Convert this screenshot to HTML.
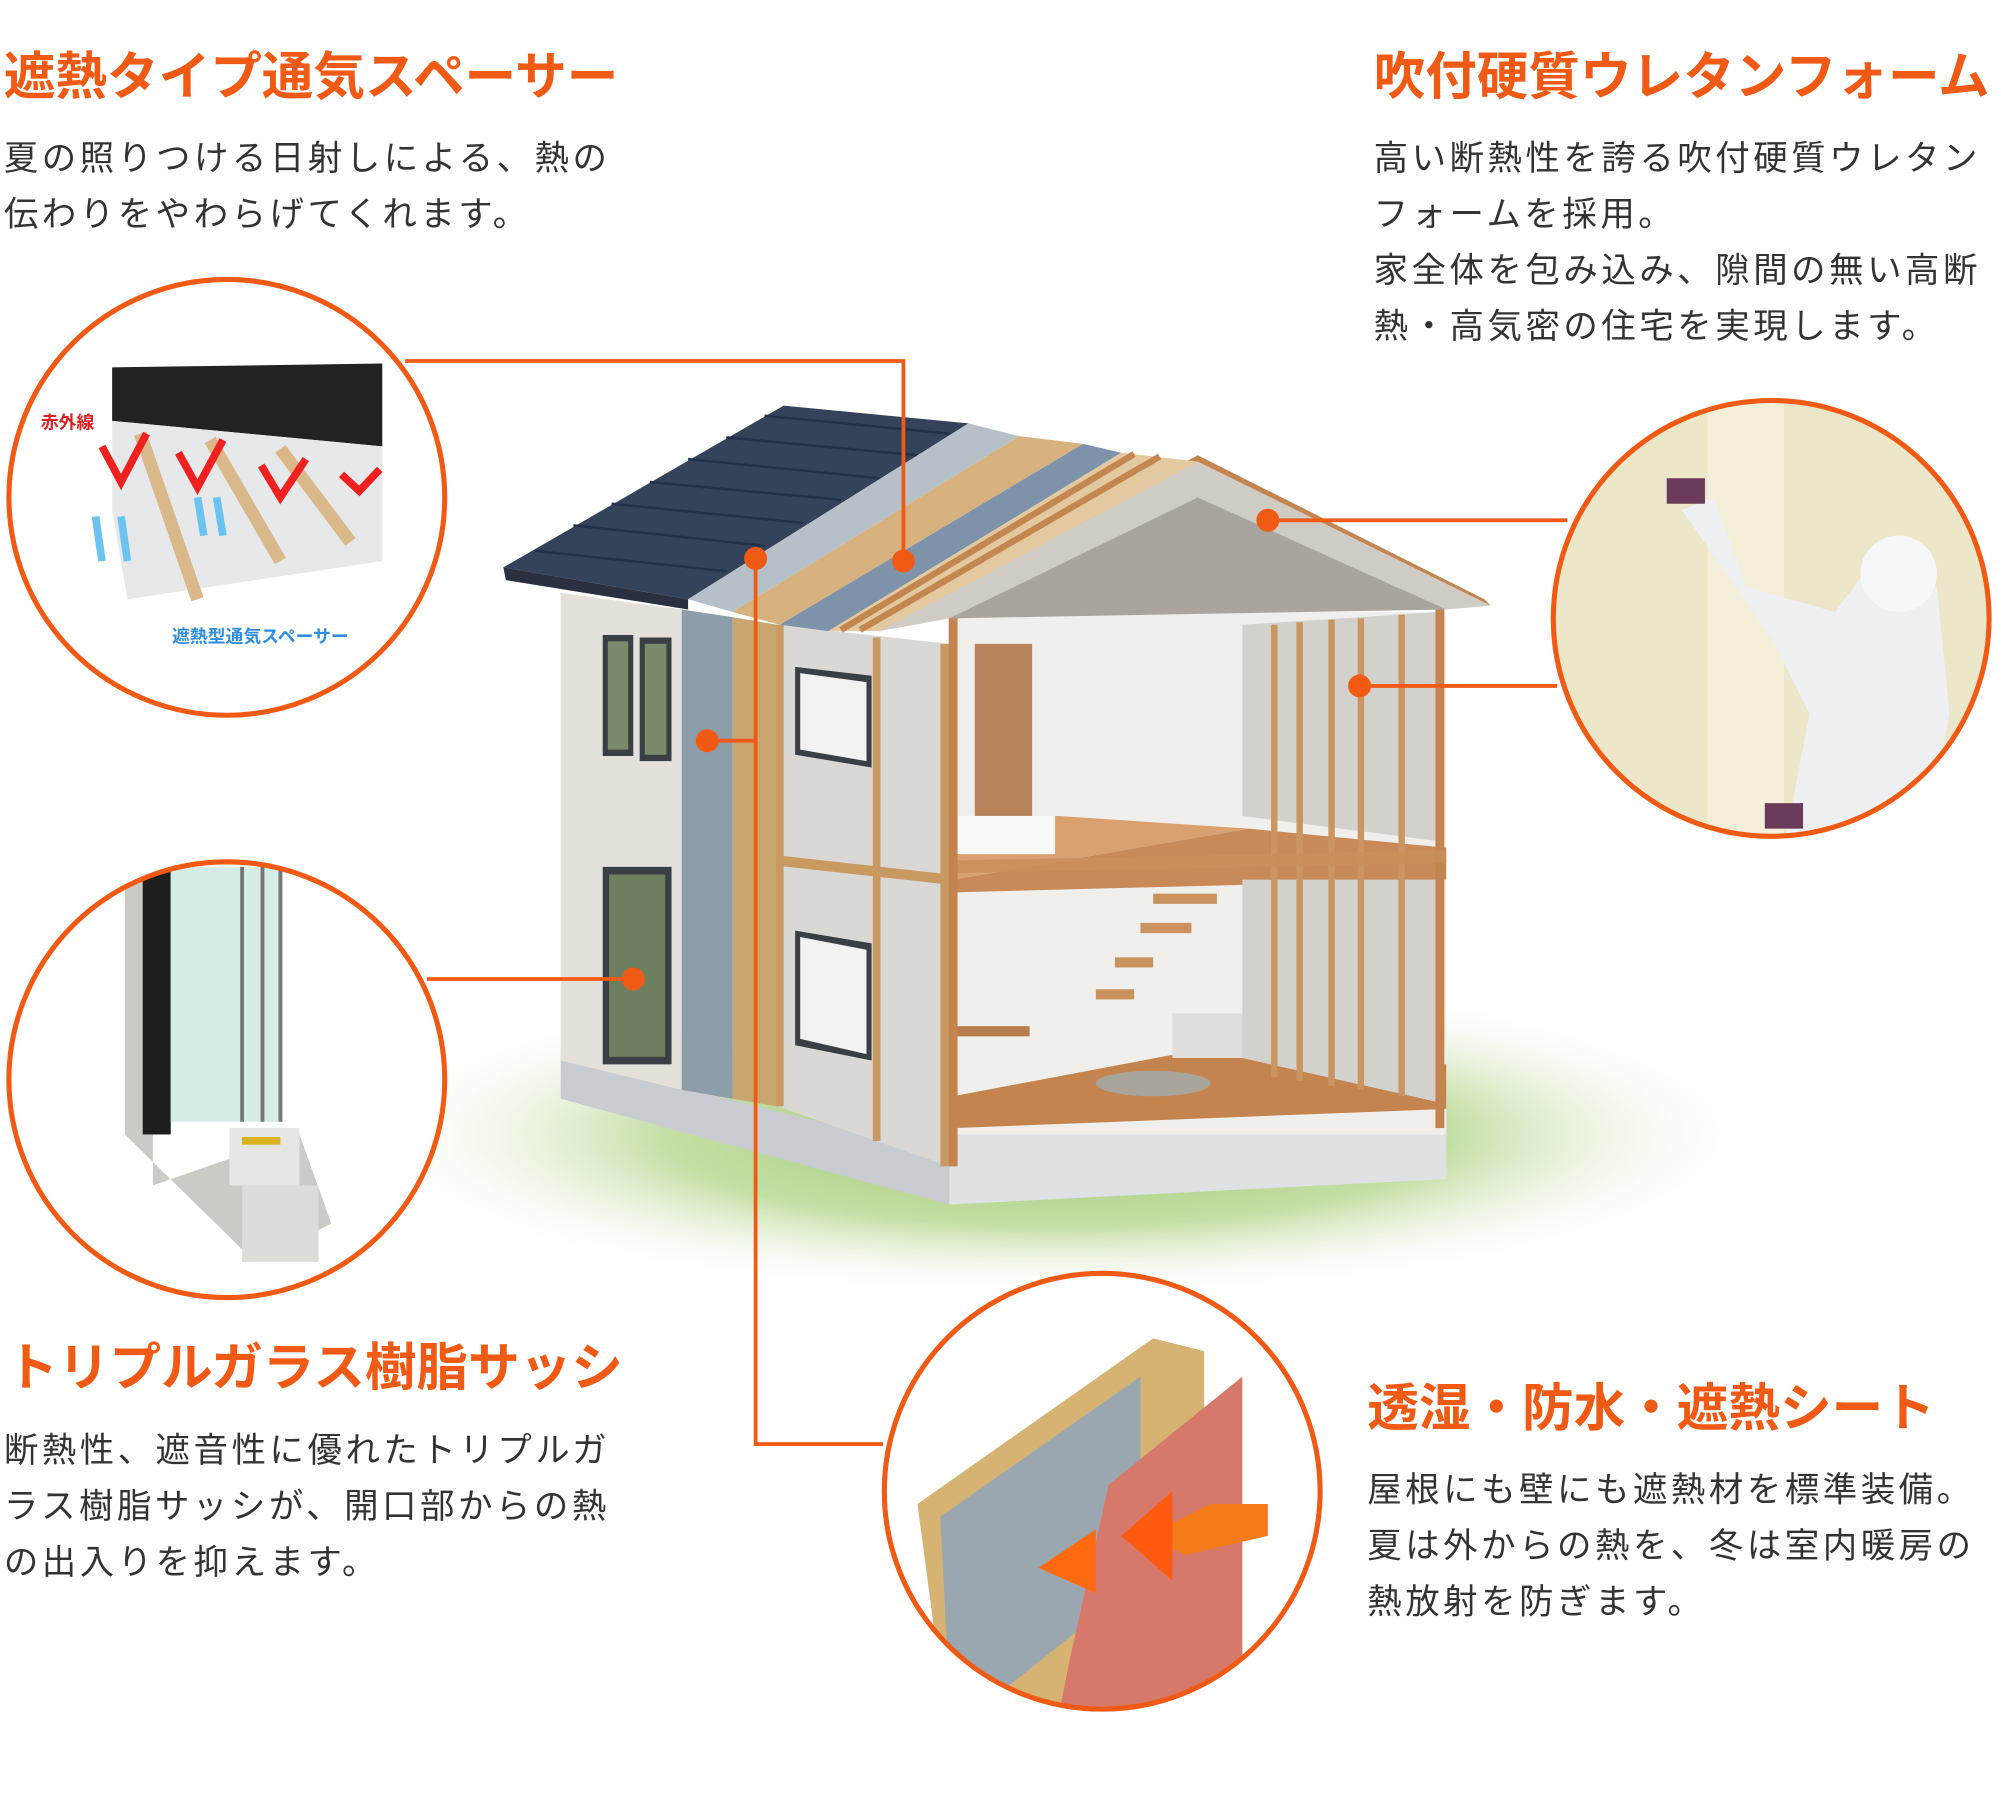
<!DOCTYPE html>
<html><head><meta charset="utf-8"><style>
html,body{margin:0;padding:0;background:#fff;}
svg{display:block;}
.t{font-family:"Liberation Sans","Noto Sans CJK JP",sans-serif;font-weight:bold;fill:#f05a14;font-size:40.5px;}
.b{font-family:"Liberation Sans","Noto Sans CJK JP",sans-serif;fill:#333;font-size:27px;letter-spacing:2.8px;}
</style></head><body>
<svg width="1998" height="1800" viewBox="0 0 1568 1412" xmlns="http://www.w3.org/2000/svg">
<defs>
<radialGradient id="grass" cx="0.5" cy="0.5" r="0.5">
<stop offset="0" stop-color="#9cc772"/><stop offset="0.55" stop-color="#c4dea4"/><stop offset="1" stop-color="#ffffff" stop-opacity="0"/>
</radialGradient>
<clipPath id="c1"><circle cx="178" cy="390" r="170"/></clipPath>
<clipPath id="c2"><circle cx="178" cy="847" r="170"/></clipPath>
<clipPath id="c3"><circle cx="1390" cy="485" r="170"/></clipPath>
<clipPath id="c4"><circle cx="865" cy="1170" r="170"/></clipPath>
</defs>

<text class="t" x="3" y="74">遮熱タイプ通気スペーサー</text>
<text class="b" x="3" y="133">夏の照りつける日射しによる、熱の</text>
<text class="b" x="3" y="177">伝わりをやわらげてくれます。</text>

<text class="t" x="1078" y="74">吹付硬質ウレタンフォーム</text>
<text class="b" x="1078" y="133">高い断熱性を誇る吹付硬質ウレタン</text>
<text class="b" x="1078" y="177">フォームを採用。</text>
<text class="b" x="1078" y="221">家全体を包み込み、隙間の無い高断</text>
<text class="b" x="1078" y="265">熱・高気密の住宅を実現します。</text>

<text class="t" x="5" y="1087">トリプルガラス樹脂サッシ</text>
<text class="b" x="3" y="1147">断熱性、遮音性に優れたトリプルガ</text>
<text class="b" x="3" y="1191">ラス樹脂サッシが、開口部からの熱</text>
<text class="b" x="3" y="1235">の出入りを抑えます。</text>

<text class="t" x="1073" y="1119">透湿・防水・遮熱シート</text>
<text class="b" x="1073" y="1178">屋根にも壁にも遮熱材を標準装備。</text>
<text class="b" x="1073" y="1222">夏は外からの熱を、冬は室内暖房の</text>
<text class="b" x="1073" y="1266">熱放射を防ぎます。</text>

<ellipse cx="830" cy="890" rx="560" ry="130" fill="url(#grass)"/>

<polygon points="440,830 745,905 745,945 440,862" fill="#c8ccd0"/>
<polygon points="745,890 1135,870 1135,925 745,945" fill="#dfe2e4"/>
<polygon points="440,465 535,478 535,855 440,832" fill="#e4e1da"/>
<polygon points="535,478 575,484 575,862 535,855" fill="#8e9daa"/>
<polygon points="575,484 610,490 610,868 575,862" fill="#c9a670"/>
<polygon points="610,490 745,505 745,915 610,868" fill="#d9d8d4"/>
<line x1="610" y1="675" x2="745" y2="690" stroke="#c89a62" stroke-width="8"/>
<line x1="612" y1="490" x2="612" y2="868" stroke="#c89a62" stroke-width="6"/>
<line x1="688" y1="500" x2="688" y2="895" stroke="#c89a62" stroke-width="6"/>
<line x1="742" y1="505" x2="742" y2="915" stroke="#c89a62" stroke-width="8"/>
<rect x="473" y="498" width="24" height="95" fill="#3a3f45"/><rect x="477" y="503" width="16" height="85" fill="#7a8a6a"/>
<rect x="502" y="500" width="25" height="97" fill="#3a3f45"/><rect x="506" y="505" width="17" height="87" fill="#7a8a6a"/>
<rect x="473" y="680" width="54" height="155" fill="#3a3f45"/><rect x="478" y="686" width="44" height="143" fill="#6e8060"/>
<polygon points="624,523 684,530 684,602 624,592" fill="#3a3f45"/><polygon points="628,528 680,535 680,597 628,588" fill="#f2f2f2"/>
<polygon points="624,730 684,740 684,832 624,820" fill="#3a3f45"/><polygon points="628,735 680,745 680,827 628,815" fill="#f2f2f2"/>
<rect x="745" y="480" width="390" height="410" fill="#f1efeb"/>
<rect x="765" y="505" width="45" height="150" fill="#b8825a"/>
<polygon points="748,690 980,650 1135,665 1135,690 748,700" fill="#c98a5a"/>
<polygon points="748,650 830,640 980,650 748,690" fill="#d9a070"/>
<rect x="748" y="640" width="80" height="30" fill="#fafafa"/>
<polygon points="748,860 960,820 1135,835 1135,870 748,885" fill="#c4844f"/>
<ellipse cx="905" cy="850" rx="45" ry="10" fill="#aaa59b"/>
<rect x="920" y="795" width="110" height="35" fill="#e0dedb"/>
<rect x="748" y="805" width="60" height="8" fill="#b77d4f"/>
<g stroke="#c9925e" stroke-width="8"><line x1="860" y1="780" x2="890" y2="780"/><line x1="875" y1="755" x2="905" y2="755"/><line x1="895" y1="728" x2="935" y2="728"/><line x1="905" y1="705" x2="955" y2="705"/></g>
<polygon points="975,490 1130,480 1130,660 975,640" fill="#d3d1cc"/>
<polygon points="975,690 1130,690 1130,865 975,830" fill="#d3d1cc"/>
<g stroke="#c99560" stroke-width="5"><line x1="1000" y1="490" x2="1000" y2="845"/><line x1="1020" y1="488" x2="1020" y2="848"/><line x1="1045" y1="486" x2="1045" y2="852"/><line x1="1068" y1="485" x2="1068" y2="855"/><line x1="1100" y1="482" x2="1100" y2="860"/></g>
<line x1="1130" y1="470" x2="1130" y2="885" stroke="#c4844f" stroke-width="7"/>
<line x1="748" y1="478" x2="1135" y2="470" stroke="#c98f5a" stroke-width="10" opacity="0.8"/>
<line x1="748" y1="680" x2="1135" y2="672" stroke="#c98f5a" stroke-width="10" opacity="0.8"/>
<line x1="748" y1="480" x2="748" y2="915" stroke="#c4844f" stroke-width="7"/>
<polygon points="690,495 940,362 1170,475 1135,478 940,390 745,485" fill="#cfccc6"/>
<polygon points="745,485 940,390 1135,478" fill="#a9a59e"/>
<polygon points="690,495 940,362 1170,475 1165,470 940,357 688,490" fill="#c48651"/>
<polygon points="395,445 615,318 760,332 540,470" fill="#34425a"/>
<g stroke="#22304a" stroke-width="2">
<line x1="420" y1="432" x2="570" y2="448"/><line x1="450" y1="412" x2="600" y2="428"/><line x1="480" y1="395" x2="630" y2="410"/><line x1="510" y1="378" x2="660" y2="392"/><line x1="540" y1="360" x2="690" y2="375"/><line x1="570" y1="343" x2="720" y2="357"/><line x1="600" y1="326" x2="745" y2="340"/>
</g>
<polygon points="395,445 540,470 540,478 397,455" fill="#2a3040"/>
<polygon points="540,470 760,332 800,342 575,480" fill="#b6c0c8"/>
<polygon points="575,480 800,342 850,348 612,490" fill="#d8b27e"/>
<polygon points="612,490 850,348 880,355 650,495" fill="#7e93aa"/>
<polygon points="650,495 880,355 940,362 690,495" fill="#e3c9a0"/>
<g stroke="#c48651" stroke-width="5"><line x1="660" y1="494" x2="890" y2="356"/><line x1="675" y1="494" x2="910" y2="358"/></g>

<g stroke="#f05a14" stroke-width="3" fill="none">
<polyline points="318,283 709,283 709,440"/>
<polyline points="593,438 593,1133 693,1133"/>
<line x1="995" y1="408" x2="1230" y2="408"/>
<line x1="1067" y1="538" x2="1222" y2="538"/>
<line x1="555" y1="581" x2="593" y2="581"/>
<line x1="335" y1="768" x2="497" y2="768"/>
</g>
<g fill="#f05a14">
<circle cx="709" cy="440" r="9"/><circle cx="593" cy="438" r="9"/><circle cx="995" cy="408" r="9"/>
<circle cx="1067" cy="538" r="9"/><circle cx="555" cy="581" r="9"/><circle cx="497" cy="768" r="9"/>
</g>

<g clip-path="url(#c1)">
<rect x="0" y="210" width="360" height="360" fill="#fff"/>
<polygon points="88,288 300,285 300,350 88,330" fill="#222"/>
<polygon points="88,330 300,350 300,440 100,470 88,400" fill="#e6e8ea"/>
<g stroke="#d9b88a" stroke-width="10"><line x1="110" y1="340" x2="155" y2="470"/><line x1="165" y1="345" x2="220" y2="440"/><line x1="220" y1="352" x2="275" y2="425"/></g>
<g stroke="#ee2020" stroke-width="6" fill="none"><polyline points="80,350 95,378 115,340"/><polyline points="140,355 155,382 175,345"/><polyline points="205,365 220,390 240,360"/><polyline points="268,372 282,385 298,368"/></g>
<g stroke="#6cc3f0" stroke-width="6"><line x1="80" y1="440" x2="75" y2="405"/><line x1="100" y1="440" x2="95" y2="405"/><line x1="160" y1="420" x2="155" y2="390"/><line x1="175" y1="420" x2="170" y2="390"/></g>
</g>
<text x="32" y="336" font-family="Liberation Sans,'Noto Sans CJK JP',sans-serif" font-size="14" font-weight="bold" fill="#e02020">赤外線</text>
<text x="135" y="504" font-family="Liberation Sans,'Noto Sans CJK JP',sans-serif" font-size="14" font-weight="bold" fill="#2e8ee0">遮熱型通気スペーサー</text>
<circle cx="178" cy="390" r="171" fill="none" stroke="#f05a14" stroke-width="4"/>

<g clip-path="url(#c2)">
<rect x="0" y="670" width="360" height="360" fill="#fff"/>
<polygon points="98,680 120,680 120,930 235,890 260,960 200,990 98,890" fill="#c9cbc4"/>
<rect x="112" y="680" width="22" height="210" fill="#1e1e1e"/>
<rect x="134" y="680" width="88" height="200" fill="#d5ece8"/>
<line x1="190" y1="680" x2="190" y2="880" stroke="#777" stroke-width="3"/>
<line x1="206" y1="680" x2="206" y2="880" stroke="#777" stroke-width="3"/>
<line x1="220" y1="680" x2="220" y2="880" stroke="#777" stroke-width="3"/>
<rect x="180" y="885" width="55" height="45" fill="#e6e7e2"/>
<rect x="190" y="892" width="30" height="6" fill="#d8b020"/>
<rect x="190" y="930" width="60" height="60" fill="#dcddd8"/>
</g>
<circle cx="178" cy="847" r="171" fill="none" stroke="#f05a14" stroke-width="4"/>

<g clip-path="url(#c3)">
<rect x="1210" y="305" width="360" height="360" fill="#ece7c9"/>
<rect x="1340" y="305" width="60" height="360" fill="#f3efd9"/>
<polygon points="1320,400 1345,390 1370,460 1440,480 1470,440 1520,460 1530,560 1510,665 1400,665 1420,560 1390,500" fill="#eef0f2"/>
<circle cx="1490" cy="450" r="30" fill="#f6f7f8"/>
<rect x="1308" y="375" width="30" height="20" fill="#6a3a5a"/>
<rect x="1385" y="630" width="30" height="20" fill="#6a3a5a"/>
</g>
<circle cx="1390" cy="485" r="171" fill="none" stroke="#f05a14" stroke-width="4"/>

<g clip-path="url(#c4)">
<rect x="690" y="995" width="360" height="360" fill="#fff"/>
<polygon points="720,1180 905,1050 945,1060 945,1230 830,1340 740,1330" fill="#d6b372"/>
<polygon points="738,1190 895,1080 895,1240 770,1340 745,1330" fill="#9aa7b0"/>
<polygon points="870,1165 975,1080 975,1400 820,1400 840,1300" fill="#d6796a"/>
<polygon points="900,1205 950,1180 995,1180 995,1205 930,1220" fill="#f47a1a"/>
<polygon points="880,1205 920,1170 920,1240" fill="#ff5a10"/>
<polygon points="815,1230 860,1200 860,1250" fill="#ff6a10"/>
</g>
<circle cx="865" cy="1170" r="171" fill="none" stroke="#f05a14" stroke-width="4"/>
</svg>
</body></html>
